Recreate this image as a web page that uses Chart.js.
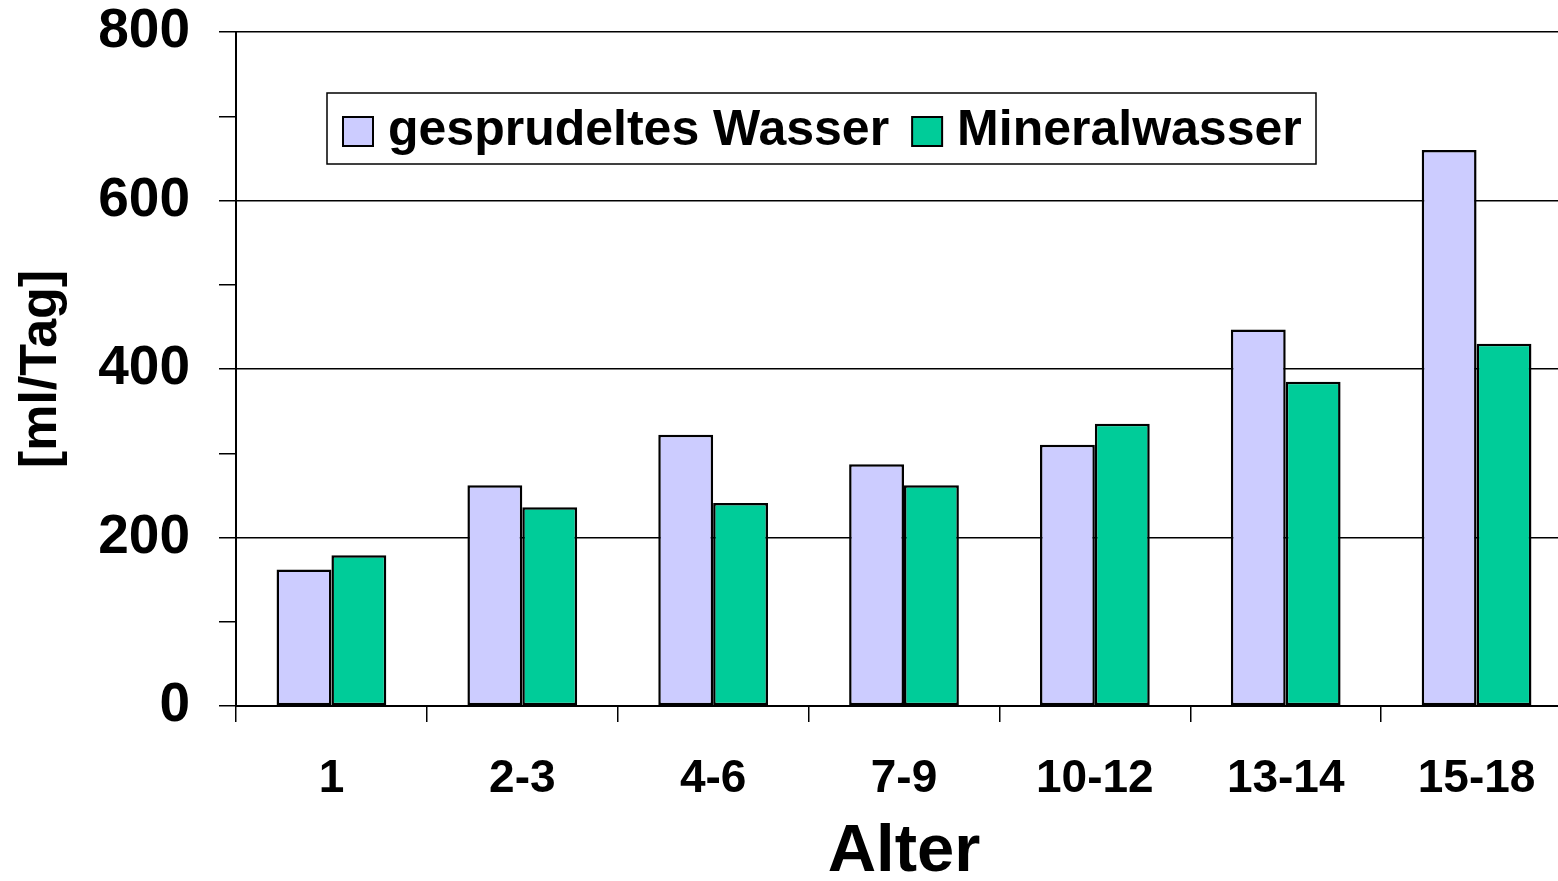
<!DOCTYPE html>
<html>
<head>
<meta charset="utf-8">
<script src="https://cdn.jsdelivr.net/npm/chart.js@4/dist/chart.umd.min.js"></script>
<style>
  html, body { margin: 0; padding: 0; background: #fff; overflow: hidden; }
  #wrap { position: relative; width: 1590px; height: 881px; }
</style>
</head>
<body>
<div id="wrap"><canvas id="wasser__chart"></canvas></div>
<script>
// Wasserkonsum nach Alter
let altersgruppen = ['1', '2-3', '4-6', '7-9', '10-12', '13-14', '15-18'];
let gesprudelt = [162, 262, 322, 287, 310, 447, 660];
let mineral = [179, 236, 241, 262, 335, 385, 430];
let serienNamen = ['gesprudeltes Wasser', 'Mineralwasser'];
let farben = ['#CCCCFF', '#00CC99'];
let yTicks = [0, 200, 400, 600, 800];

const schrift = 'Liberation Sans, Arial, sans-serif';

// Legende im Diagramm, mit Rahmen
const legendeImPlot = {
	id: 'legendeImPlot',
	afterDraw(chart) {
		const {ctx, chartArea} = chart;
		let x0 = chartArea.left + 91,
			y0 = chartArea.top + 61,
			w = 989,
			h = 71;
		ctx.save();
		ctx.fillStyle = '#fff';
		ctx.fillRect(x0, y0, w, h);
		ctx.lineWidth = 1.5;
		ctx.strokeStyle = '#000';
		ctx.strokeRect(x0, y0, w, h);
		ctx.font = 'bold 50px ' + schrift;
		ctx.textBaseline = 'middle';
		let x = x0 + 16;
		chart.data.datasets.forEach(ds => {
			ctx.fillStyle = ds.backgroundColor;
			ctx.fillRect(x, y0 + 24, 30, 29);
			ctx.lineWidth = 2;
			ctx.strokeRect(x, y0 + 24, 30, 29);
			x += 45;
			ctx.fillStyle = '#000';
			ctx.fillText(ds.label, x, y0 + 38);
			x += ctx.measureText(ds.label).width + 23;
		});
		ctx.restore();
	}
};

let ctx = document.getElementById('wasser__chart').getContext('2d');
let chart = new Chart(ctx, {
	type: 'bar',
	data: {
		labels: altersgruppen,
		datasets: [gesprudelt, mineral].map((werte, i) => ({
			label: serienNamen[i],
			data: werte,
			backgroundColor: farben[i],
			borderColor: '#000',
			borderWidth: 2.5,
			borderSkipped: false,
			categoryPercentage: 0.575,
			barPercentage: 1
		}))
	},
	options: {
		responsive: true,
		maintainAspectRatio: false,
		animation: false,
		layout: { padding: { top: 32, right: 18, left: 0, bottom: 0 } },
		plugins: {
			legend: { display: false },
			tooltip: { enabled: false }
		},
		scales: {
			x: {
				afterFit: s => { s.height = 175; },
				grid: {
					offset: true,
					drawOnChartArea: false,
					color: '#000',
					lineWidth: 1.5,
					tickLength: 16
				},
				border: { display: true, color: '#000', width: 2 },
				ticks: {
					color: '#000',
					padding: 30,
					maxRotation: 0,
					font: { family: schrift, size: 46, weight: 'bold', lineHeight: 1.2 }
				},
				title: {
					display: true,
					text: 'Alter',
					color: '#000',
					padding: { top: 0, bottom: 0 },
					font: { family: schrift, size: 67, weight: 'bold', lineHeight: 0.85 }
				}
			},
			y: {
				min: 0,
				max: 800,
				afterFit: s => {
					s.width = 236;
					// tick padding soll nicht den Plotbereich verschieben
					s.paddingTop = 0;
					s.paddingBottom = 0;
				},
				ticks: {
					stepSize: 100,
					color: '#000',
					padding: 29,
					callback: v => yTicks.includes(v) ? v : '',
					font: { family: schrift, size: 55, weight: 'bold', lineHeight: 1 }
				},
				grid: {
					color: c => yTicks.includes(c.tick.value) ? '#000' : 'rgba(0,0,0,0)',
					tickColor: '#000',
					lineWidth: 1.5,
					tickLength: 17
				},
				border: { display: true, color: '#000', width: 2 },
				title: {
					display: true,
					text: '[ml/Tag]',
					color: '#000',
					padding: { top: 10, bottom: 0 },
					font: { family: schrift, size: 52, weight: 'bold', lineHeight: 1.2 }
				}
			}
		}
	},
	plugins: [legendeImPlot]
});
</script>
</body>
</html>
